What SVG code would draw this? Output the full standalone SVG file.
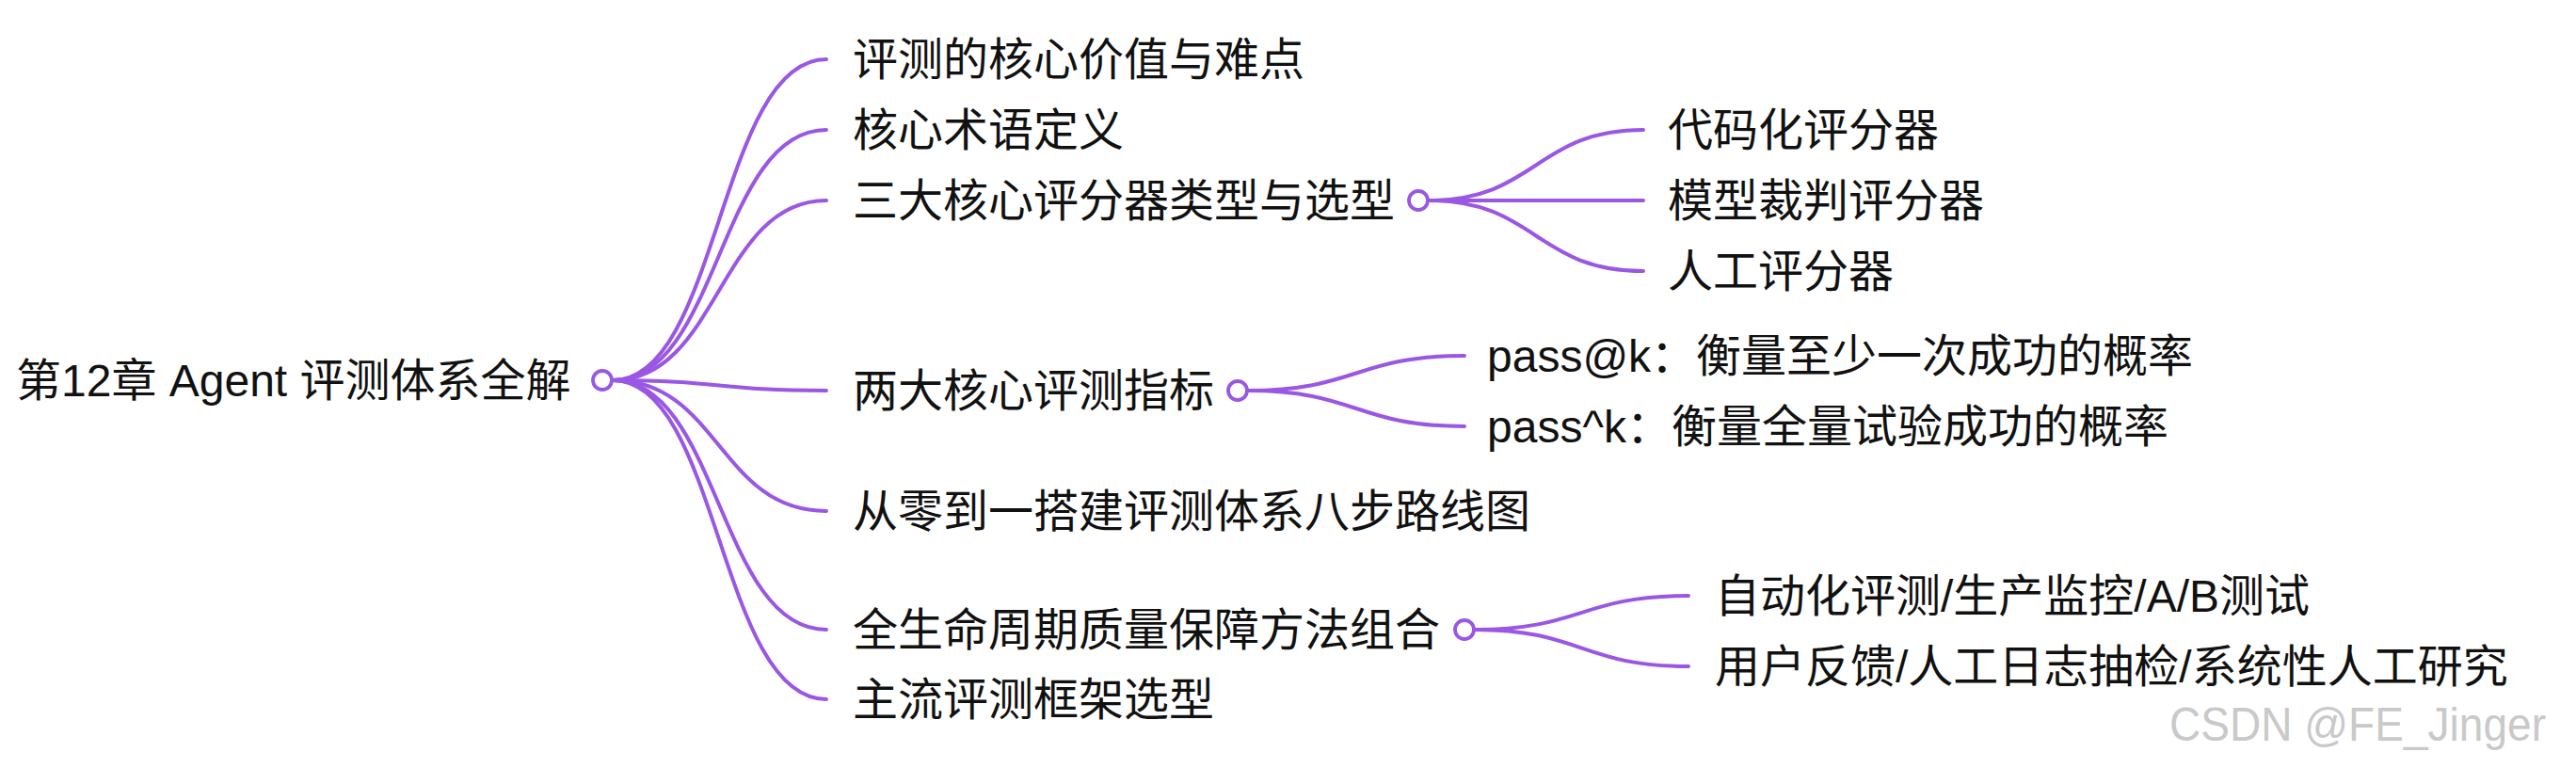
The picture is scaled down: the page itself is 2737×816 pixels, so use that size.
<svg xmlns="http://www.w3.org/2000/svg" width="2737" height="816" viewBox="0 0 2737 816">
<style>
.bg{fill:#ffffff}
.link{fill:none;stroke:#9a57e4;stroke-width:4;stroke-linecap:round}
.dot{fill:#ffffff;stroke:#9a57e4;stroke-width:3.8}
.t{font-family:"Liberation Sans","Noto Sans CJK SC",sans-serif;font-size:48px;fill:#111111;dominant-baseline:central}
.wm{font-family:"Liberation Sans Narrow","Liberation Sans",sans-serif;font-size:50px;fill:#c9c9c9;dominant-baseline:central}
</style>
<rect class="bg" x="0" y="0" width="2737" height="816"/>
<g id="connectors">
  <path class="link" d="M651 404 C764 404 764 63 878 63"/>
  <path class="link" d="M651 404 C764 404 764 138 878 138"/>
  <path class="link" d="M651 404 C764 404 764 213 878 213"/>
  <path class="link" d="M651 404 C764 404 764 415 878 415"/>
  <path class="link" d="M651 404 C764 404 764 543 878 543"/>
  <path class="link" d="M651 404 C764 404 764 669 878 669"/>
  <path class="link" d="M651 404 C764 404 764 743 878 743"/>
  <path class="link" d="M1518 213 C1632 213 1632 138 1746 138"/>
  <path class="link" d="M1518 213 C1632 213 1632 213 1746 213"/>
  <path class="link" d="M1518 213 C1632 213 1632 288 1746 288"/>
  <path class="link" d="M1326 415 C1441 415 1441 378 1556 378"/>
  <path class="link" d="M1326 415 C1441 415 1441 453 1556 453"/>
  <path class="link" d="M1567 669 C1680 669 1680 633 1794 633"/>
  <path class="link" d="M1567 669 C1680 669 1680 708 1794 708"/>
</g>
<g id="node-root">
  <text class="t" x="17" y="404">第12章 Agent 评测体系全解</text>
  <circle class="dot" cx="640" cy="404" r="10"/>
</g>
<g id="node-1"><text class="t" x="906" y="63">评测的核心价值与难点</text></g>
<g id="node-2"><text class="t" x="906" y="138">核心术语定义</text></g>
<g id="node-3">
  <text class="t" x="906" y="213">三大核心评分器类型与选型</text>
  <circle class="dot" cx="1507" cy="213" r="10"/>
</g>
<g id="node-3-1"><text class="t" x="1772" y="138">代码化评分器</text></g>
<g id="node-3-2"><text class="t" x="1772" y="213">模型裁判评分器</text></g>
<g id="node-3-3"><text class="t" x="1772" y="288">人工评分器</text></g>
<g id="node-4">
  <text class="t" x="906" y="415">两大核心评测指标</text>
  <circle class="dot" cx="1315" cy="415" r="10"/>
</g>
<g id="node-4-1"><text class="t" x="1580" y="378">pass@k：衡量至少一次成功的概率</text></g>
<g id="node-4-2"><text class="t" x="1580" y="453">pass^k：衡量全量试验成功的概率</text></g>
<g id="node-5"><text class="t" x="906" y="543">从零到一搭建评测体系八步路线图</text></g>
<g id="node-6">
  <text class="t" x="906" y="669">全生命周期质量保障方法组合</text>
  <circle class="dot" cx="1556" cy="669" r="10"/>
</g>
<g id="node-6-1"><text class="t" x="1822" y="633">自动化评测/生产监控/A/B测试</text></g>
<g id="node-6-2"><text class="t" x="1822" y="708">用户反馈/人工日志抽检/系统性人工研究</text></g>
<g id="node-7"><text class="t" x="906" y="743">主流评测框架选型</text></g>
<text class="wm" x="2305" y="770" textLength="400" lengthAdjust="spacingAndGlyphs">CSDN @FE_Jinger</text>
</svg>
